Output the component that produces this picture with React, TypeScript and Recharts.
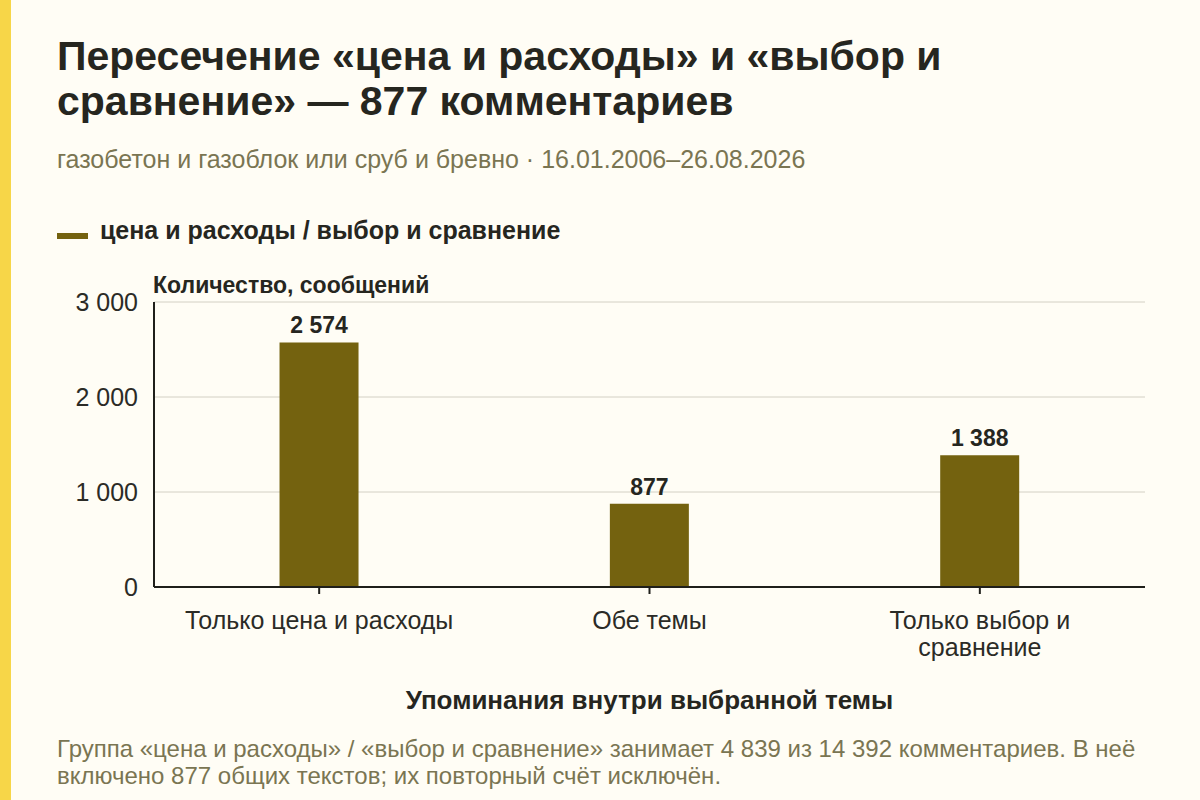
import React from "react";
import {
  Bar,
  BarChart,
  CartesianGrid,
  LabelList,
  XAxis,
  YAxis,
} from "recharts";

const categories = ["Только цена и расходы", "Обе темы", "Только выбор и сравнение"];
const counts = [2574, 877, 1388];
const yTicks = [0, 1000, 2000, 3000];

const data = categories.map((name, i) => ({ name, value: counts[i] }));

const FONT = '"Liberation Sans", Arial, Helvetica, sans-serif';
const BAR = "#74620f";
const DARK = "#26261f";
const MUTED = "#7a7552";

const fmt = (v: number | string) =>
  String(v).replace(/\B(?=(\d{3})+(?!\d))/g, " ");

// greedy word wrap measured on a canvas
function wrapLabel(text: string, maxWidth: number, font: string): string[] {
  const ctx = document.createElement("canvas").getContext("2d");
  if (!ctx) return [text];
  ctx.font = font;
  const lines: string[] = [];
  let cur = "";
  for (const w of text.split(" ")) {
    const next = cur ? cur + " " + w : w;
    if (cur && ctx.measureText(next).width > maxWidth) {
      lines.push(cur);
      cur = w;
    } else {
      cur = next;
    }
  }
  if (cur) lines.push(cur);
  return lines;
}

function CategoryTick(props: any) {
  const { x, y, payload } = props;
  const lines = wrapLabel(String(payload.value), 282, `25px ${FONT}`);
  return (
    <text x={x} y={y + 18} textAnchor="middle" fill="#2b2b26" fontSize={25} fontFamily={FONT}>
      {lines.map((line, i) => (
        <tspan key={i} x={x} dy={i === 0 ? 0 : 27}>
          {line}
        </tspan>
      ))}
    </text>
  );
}

export default function App() {
  return (
    <div
      style={{
        position: "fixed",
        left: 0,
        top: 0,
        width: 1200,
        height: 800,
        background: "#fffdf5",
        fontFamily: FONT,
        overflow: "hidden",
      }}
    >
      <div style={{ position: "absolute", left: 0, top: 0, width: 11, height: 800, background: "#f7d648" }} />
      <div
        style={{
          position: "absolute",
          left: 57,
          top: 34,
          fontSize: 41,
          lineHeight: "45px",
          fontWeight: 700,
          color: DARK,
          width: 1120,
          whiteSpace: "nowrap",
        }}
      >
        Пересечение «цена и расходы» и «выбор и
        <br />
        сравнение» — 877 комментариев
      </div>
      <div style={{ position: "absolute", left: 57, top: 145, fontSize: 25, color: MUTED, whiteSpace: "nowrap" }}>
        газобетон и газоблок или сруб и бревно · 16.01.2006–26.08.2026
      </div>
      <div style={{ position: "absolute", left: 57, top: 233, width: 31, height: 6, background: BAR }} />
      <div
        style={{
          position: "absolute",
          left: 100,
          top: 216,
          fontSize: 25,
          fontWeight: 700,
          color: DARK,
          whiteSpace: "nowrap",
        }}
      >
        цена и расходы / выбор и сравнение
      </div>
      <div
        style={{
          position: "absolute",
          left: 153,
          top: 272,
          fontSize: 23,
          lineHeight: "26px",
          fontWeight: 700,
          color: DARK,
          whiteSpace: "nowrap",
        }}
      >
        Количество, сообщений
      </div>
      <div
        style={{
          position: "absolute",
          left: 154,
          width: 991,
          top: 685,
          textAlign: "center",
          fontSize: 26,
          fontWeight: 700,
          color: DARK,
          whiteSpace: "nowrap",
        }}
      >
        Упоминания внутри выбранной темы
      </div>
      <div
        style={{
          position: "absolute",
          left: 57,
          top: 735,
          width: 1130,
          fontSize: 24,
          lineHeight: "27px",
          color: MUTED,
          whiteSpace: "nowrap",
        }}
      >
        Группа «цена и расходы» / «выбор и сравнение» занимает 4 839 из 14 392 комментариев. В неё
        <br />
        включено 877 общих текстов; их повторный счёт исключён.
      </div>

      <div style={{ position: "absolute", left: 0, top: 0 }}>
        <BarChart
          width={1200}
          height={800}
          data={data}
          margin={{ top: 302, right: 55, bottom: 153, left: 64 }}
          barCategoryGap="38%"
        >
          <CartesianGrid vertical={false} stroke="#d3d0c4" strokeWidth={1} />
          <XAxis
            dataKey="name"
            height={60}
            interval={0}
            axisLine={{ stroke: "#1f1f1a", strokeWidth: 2 }}
            tickLine={{ stroke: "#1f1f1a", strokeWidth: 2 }}
            tickSize={7}
            tickMargin={17}
            tick={(p: any) => <CategoryTick {...p} />}
          />
          <YAxis
            width={90}
            domain={[0, 3000]}
            ticks={yTicks}
            allowDataOverflow
            axisLine={{ stroke: "#1f1f1a", strokeWidth: 2 }}
            tickLine={false}
            tickSize={6}
            tickMargin={10}
            tickFormatter={fmt}
            tick={{ fill: "#2b2b26", fontSize: 25, fontFamily: FONT }}
          />
          <Bar dataKey="value" fill={BAR} isAnimationActive={false}>
            <LabelList
              dataKey="value"
              position="top"
              offset={9}
              formatter={fmt}
              style={{ fontSize: 23, fontWeight: 700, fill: DARK, fontFamily: FONT }}
            />
          </Bar>
        </BarChart>
      </div>
    </div>
  );
}
